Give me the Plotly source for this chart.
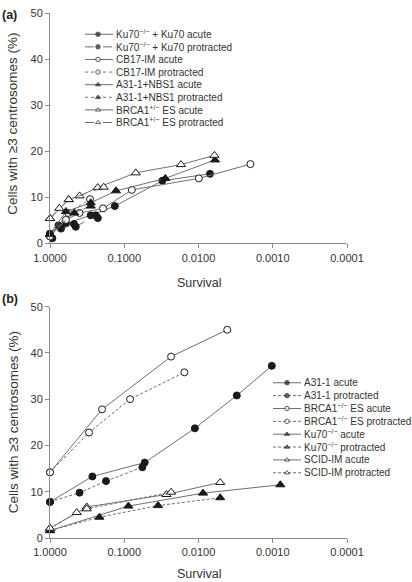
import plotly.graph_objects as go

# ---------------- data ----------------
# Panel (a)
ku70r_acute_s = [1.0, 0.77, 0.61, 0.283, 0.134, 0.0307, 0.0070]
ku70r_acute_y = [2.1, 3.9, 4.3, 6.1, 8.1, 13.6, 15.1]
ku70r_prot_s = [1.0, 0.93, 0.71, 0.475, 0.45, 0.242, 0.227]
ku70r_prot_y = [2.1, 1.1, 3.2, 4.2, 3.6, 6.1, 5.5]

cb17_acute_s = [1.0, 0.61, 0.40, 0.193, 0.079, 0.0099, 0.0020]
cb17_acute_y = [1.5, 5.1, 6.6, 7.6, 11.6, 14.1, 17.2]
cb17_prot_s = [1.0, 0.57, 0.289]
cb17_prot_y = [1.5, 6.6, 9.6]

nbs_acute_s = [1.0, 0.61, 0.283, 0.129, 0.028, 0.006]
nbs_acute_y = [2.0, 6.9, 8.8, 11.4, 14.1, 18.1]
nbs_prot_s = [1.0, 0.47, 0.283]
nbs_prot_y = [2.0, 6.6, 8.1]

brcah_acute_s = [1.0, 0.56, 0.40, 0.228, 0.070, 0.0172, 0.0061]
brcah_acute_y = [5.4, 9.5, 10.3, 12.1, 15.3, 17.1, 19.1]
brcah_prot_s = [1.0, 0.75, 0.56, 0.189]
brcah_prot_y = [5.4, 7.6, 9.5, 12.2]

# Panel (b)
a31_acute_s = [1.0, 0.269, 0.053, 0.0112, 0.00305, 0.00103]
a31_acute_y = [7.8, 13.3, 16.3, 23.7, 30.8, 37.2]
a31_prot_s = [1.0, 0.40, 0.176, 0.057]
a31_prot_y = [7.8, 9.8, 12.3, 15.3]

brcan_acute_s = [1.0, 0.199, 0.0234, 0.0041]
brcan_acute_y = [14.2, 27.8, 39.2, 45.0]
brcan_prot_s = [1.0, 0.298, 0.0835, 0.0155]
brcan_prot_y = [14.2, 22.8, 30.0, 35.8]

ku70_acute_s = [1.0, 0.088, 0.0087, 0.00079]
ku70_acute_y = [1.6, 6.9, 9.7, 11.5]
ku70_prot_s = [1.0, 0.216, 0.035, 0.0051]
ku70_prot_y = [1.6, 4.5, 7.0, 8.7]

scid_acute_s = [1.0, 0.32, 0.027, 0.0051]
scid_acute_y = [2.1, 6.7, 9.4, 12.0]
scid_prot_s = [1.0, 0.437, 0.32, 0.0234]
scid_prot_y = [2.1, 5.5, 6.3, 9.9]

tick_vals = [1.0, 0.1, 0.01, 0.001, 0.0001]
tick_text = ["1.0000", "0.1000", "0.0100", "0.0010", "0.0001"]
y_ticks = [0, 10, 20, 30, 40, 50]

labels_a = ["Ku70<sup>−/−</sup> + Ku70 acute", "Ku70<sup>−/−</sup> + Ku70 protracted",
            "CB17-IM acute", "CB17-IM protracted",
            "A31-1+NBS1 acute", "A31-1+NBS1 protracted",
            "BRCA1<sup>+/−</sup> ES acute", "BRCA1<sup>+/−</sup> ES protracted"]
labels_b = ["A31-1 acute", "A31-1 protracted",
            "BRCA1<sup>−/−</sup> ES acute", "BRCA1<sup>−/−</sup> ES protracted",
            "Ku70<sup>−/−</sup> acute", "Ku70<sup>−/−</sup> protracted",
            "SCID-IM acute", "SCID-IM protracted"]

# ---------------- styles ----------------
BLACK = "#1a1a1a"
LINE = "#6e6e6e"
FILLED_C = dict(symbol="circle", color=BLACK, line=dict(color=BLACK, width=1))
OPEN_C = dict(symbol="circle", color="white", line=dict(color=BLACK, width=1))
FILLED_T = dict(symbol="triangle-up", color=BLACK, line=dict(color=BLACK, width=1))
OPEN_T = dict(symbol="triangle-up", color="white", line=dict(color=BLACK, width=1))

series_a = [
    (ku70r_acute_s, ku70r_acute_y, FILLED_C, "solid", 7),
    (ku70r_prot_s, ku70r_prot_y, FILLED_C, "dash", 7),
    (cb17_acute_s, cb17_acute_y, OPEN_C, "solid", 7),
    (cb17_prot_s, cb17_prot_y, OPEN_C, "dot", 7),
    (nbs_acute_s, nbs_acute_y, FILLED_T, "solid", 8),
    (nbs_prot_s, nbs_prot_y, FILLED_T, "dot", 8),
    (brcah_acute_s, brcah_acute_y, OPEN_T, "solid", 8),
    (brcah_prot_s, brcah_prot_y, OPEN_T, "dash", 8),
]
series_b = [
    (a31_acute_s, a31_acute_y, FILLED_C, "solid", 7),
    (a31_prot_s, a31_prot_y, FILLED_C, "3px,2px", 7),
    (brcan_acute_s, brcan_acute_y, OPEN_C, "solid", 7),
    (brcan_prot_s, brcan_prot_y, OPEN_C, "3px,2px", 7),
    (ku70_acute_s, ku70_acute_y, FILLED_T, "solid", 8),
    (ku70_prot_s, ku70_prot_y, FILLED_T, "3px,2px", 8),
    (scid_acute_s, scid_acute_y, OPEN_T, "solid", 8),
    (scid_prot_s, scid_prot_y, OPEN_T, "3px,2px", 8),
]

fig = go.Figure()

for (xs, ys, mk, dash, sz), name in zip(series_a, labels_a):
    fig.add_trace(go.Scatter(x=xs, y=ys, mode="lines+markers", name=name,
                             xaxis="x", yaxis="y", cliponaxis=False, showlegend=False,
                             line=dict(color=LINE, width=1, dash=dash),
                             marker=dict(size=sz, **mk)))
for (xs, ys, mk, dash, sz), name in zip(series_b, labels_b):
    fig.add_trace(go.Scatter(x=xs, y=ys, mode="lines+markers", name=name,
                             xaxis="x2", yaxis="y2", cliponaxis=False, showlegend=False,
                             line=dict(color=LINE, width=1, dash=dash),
                             marker=dict(size=sz, **mk)))

# plot area in page pixels: x 50..347, y 7..538
L, R, T, B = 50, 347, 7, 538


def px_x(p):
    return (p - L) / (R - L)


def px_y(p):
    return (B - p) / (B - T)


annotations = []


def legend_block(series, labels, x0, x1, xm, xt, ytop, dy):
    for i, ((xs, ys, mk, dash, sz), lab) in enumerate(zip(series, labels)):
        yy = 582 - (ytop + dy * i)
        fig.add_trace(go.Scatter(x=[x0, xm, x1], y=[yy, yy, yy], mode="lines+markers",
                                 xaxis="x3", yaxis="y3", cliponaxis=False, showlegend=False,
                                 hoverinfo="skip",
                                 line=dict(color=LINE, width=1, dash=dash),
                                 marker=dict(size=[0, 4.5, 0], **mk)))
        annotations.append(dict(x=px_x(xt), y=px_y(ytop + dy * i), xref="paper", yref="paper",
                                text=lab, showarrow=False, xanchor="left", yanchor="middle",
                                font=dict(size=10, color="#333333")))


legend_block(series_a, labels_a, 85, 113, 98, 114, 28.5, 12.75)
legend_block(series_b, labels_b, 273, 301, 287, 302, 381, 13.0)

for ycen in [119, 421]:
    annotations.append(dict(x=px_x(13), y=px_y(ycen), xref="paper", yref="paper",
                            text="Cells with ≥3 centrosomes (%)", textangle=-90,
                            xanchor="center", yanchor="middle",
                            showarrow=False, font=dict(size=13.5, color="#333333")))
for ycen in [280, 574]:
    annotations.append(dict(x=px_x(198.5), y=px_y(ycen), xref="paper", yref="paper",
                            text="Survival", showarrow=False,
                            xanchor="center", yanchor="middle",
                            font=dict(size=12.5, color="#333333")))
annotations.append(dict(x=px_x(0), y=px_y(9), xref="paper", yref="paper", text="<b>(a)</b>",
                        showarrow=False, xanchor="left", yanchor="middle",
                        font=dict(size=12.5, color="#222222")))
annotations.append(dict(x=px_x(0), y=px_y(296), xref="paper", yref="paper", text="<b>(b)</b>",
                        showarrow=False, xanchor="left", yanchor="middle",
                        font=dict(size=12.5, color="#222222")))

xaxis_common = dict(type="log", range=[0, -4], tickvals=tick_vals, ticktext=tick_text,
                    showline=True, linecolor="#8a8a8a", linewidth=1, ticks="outside",
                    ticklen=4, tickcolor="#8a8a8a", showgrid=False, zeroline=False,
                    tickfont=dict(size=11, color="#333333"))
yaxis_common = dict(range=[0, 50], tickvals=y_ticks, showline=True, linecolor="#8a8a8a",
                    linewidth=1, ticks="outside", ticklen=4, tickcolor="#8a8a8a",
                    showgrid=False, zeroline=False, tickfont=dict(size=11, color="#333333"))

fig.update_layout(
    width=412, height=582,
    margin=dict(l=L, r=412 - R, t=T, b=582 - B),
    paper_bgcolor="white", plot_bgcolor="rgba(0,0,0,0)",
    font=dict(family="Liberation Sans, Arial, sans-serif", color="#333333"),
    showlegend=False,
    xaxis=dict(domain=[0, 1], anchor="y", **xaxis_common),
    yaxis=dict(domain=[px_y(240), 1], anchor="x", **yaxis_common),
    xaxis2=dict(domain=[0, 1], anchor="y2", **xaxis_common),
    yaxis2=dict(domain=[0, px_y(304)], anchor="x2", **yaxis_common),
    xaxis3=dict(domain=[0, 1], anchor="y3", range=[L, R], visible=False, fixedrange=True),
    yaxis3=dict(domain=[0, 1], anchor="x3", range=[582 - B, 582 - T], visible=False,
                fixedrange=True),
    annotations=annotations,
)

fig.write_html("out.html", config={"displayModeBar": False},
               post_script="document.body.style.margin='0px';document.body.style.padding='0px';")
